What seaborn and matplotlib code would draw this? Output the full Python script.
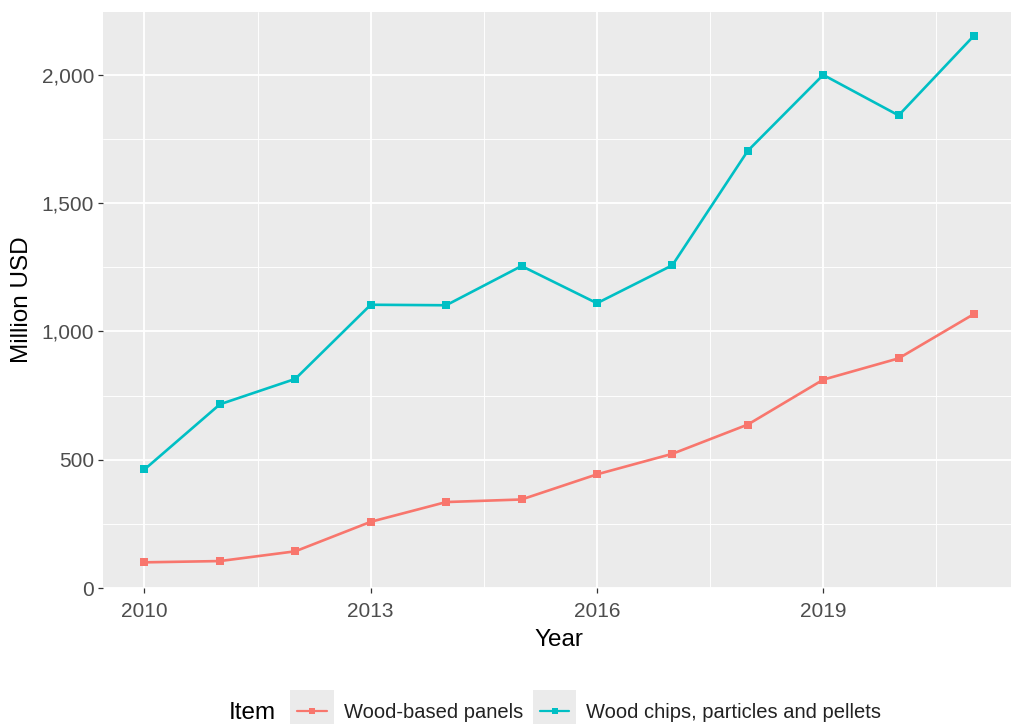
import numpy as np
import pandas as pd
import matplotlib
matplotlib.use("Agg")
import matplotlib.pyplot as plt
import seaborn as sns
from matplotlib.patches import Rectangle
from matplotlib.legend_handler import HandlerLine2D
from matplotlib.ticker import FuncFormatter, MultipleLocator, FixedLocator

years = [2010, 2011, 2012, 2013, 2014, 2015, 2016, 2017, 2018, 2019, 2020, 2021]
panels = [100, 105, 143, 258, 335, 345, 443, 523, 637, 812, 895, 1068]
chips = [462, 716, 815, 1104, 1102, 1255, 1110, 1258, 1704, 2000, 1842, 2153]
items = ["Wood-based panels", "Wood chips, particles and pellets"]
colors = ["#F8766D", "#00BFC4"]

df = pd.DataFrame({
    "Year": years * 2,
    "Value": panels + chips,
    "Item": [items[0]] * len(years) + [items[1]] * len(years),
})

sns.set_theme(style="darkgrid")
plt.rcParams["font.family"] = ["Liberation Sans", "DejaVu Sans"]
plt.rcParams["axes.facecolor"] = "#EBEBEB"

fig = plt.figure(figsize=(10.11, 7.24), dpi=100, facecolor="white")
ax = fig.add_axes([103 / 1011, 1 - 588 / 724, (1015.5 - 103) / 1011, (588 - 12) / 724])
ax.set_facecolor("#EBEBEB")

sns.lineplot(data=df, x="Year", y="Value", hue="Item", hue_order=items,
             palette=colors, marker="s", markersize=5.5, markeredgewidth=0,
             linewidth=1.9, ax=ax)

handles, labels = ax.get_legend_handles_labels()
ax.get_legend().remove()
for h in handles:
    h.set_markersize(4)
    h.set_linewidth(1.6)

ax.set_xlim(2009.45, 2021.55)
ax.set_ylim(0, 2245)
ax.xaxis.set_major_locator(FixedLocator([2010, 2013, 2016, 2019]))
ax.xaxis.set_minor_locator(FixedLocator([2011.5, 2014.5, 2017.5, 2020.5]))
ax.yaxis.set_major_locator(MultipleLocator(500))
ax.yaxis.set_minor_locator(FixedLocator([250, 750, 1250, 1750, 2250]))
ax.yaxis.set_major_formatter(FuncFormatter(lambda v, p: f"{int(v):,}"))
ax.xaxis.set_major_formatter(FuncFormatter(lambda v, p: f"{int(v)}"))

ax.grid(which="major", color="white", linewidth=1.3)
ax.grid(which="minor", color="white", linewidth=0.65)
ax.set_axisbelow(True)
for s in ax.spines.values():
    s.set_visible(False)

ax.tick_params(axis="both", which="major", length=3.5, width=0.9, color="#333333",
               labelsize=15, labelcolor="#4D4D4D", pad=3)
ax.tick_params(axis="x", which="major", pad=6.5)
ax.tick_params(axis="both", which="minor", length=0)
ax.tick_params(axis="x", bottom=True)
ax.tick_params(axis="y", left=True)

ax.set_xlabel("Year", fontsize=17.5, color="black", labelpad=6)
ax.set_ylabel("Million USD", fontsize=17.5, color="black", labelpad=6)


class KeyHandler(HandlerLine2D):
    def create_artists(self, legend, orig_handle, xdescent, ydescent, width,
                       height, fontsize, trans):
        arts = super().create_artists(legend, orig_handle, xdescent, ydescent,
                                      width, height, fontsize, trans)
        cy = height / 2 - ydescent
        side = width + 10
        rect = Rectangle((-xdescent - 5, cy - side / 2), side, side,
                         facecolor="#EBEBEB", edgecolor="none", transform=trans)
        return [rect] + list(arts)


leg = fig.legend(handles, labels, loc="center", ncol=2,
                 bbox_to_anchor=(0.583, 1 - 713 / 724), frameon=False,
                 fontsize=14.5, handlelength=1.45, handletextpad=0.85,
                 columnspacing=0.85, borderaxespad=0,
                 handler_map={h: KeyHandler() for h in handles})
for t in leg.get_texts():
    t.set_color("#222222")
fig.text(276 / 1011, 1 - 713 / 724, "Item", fontsize=17.5, ha="right",
         va="center", color="black")

fig.savefig("out.png", dpi=100, facecolor="white")
